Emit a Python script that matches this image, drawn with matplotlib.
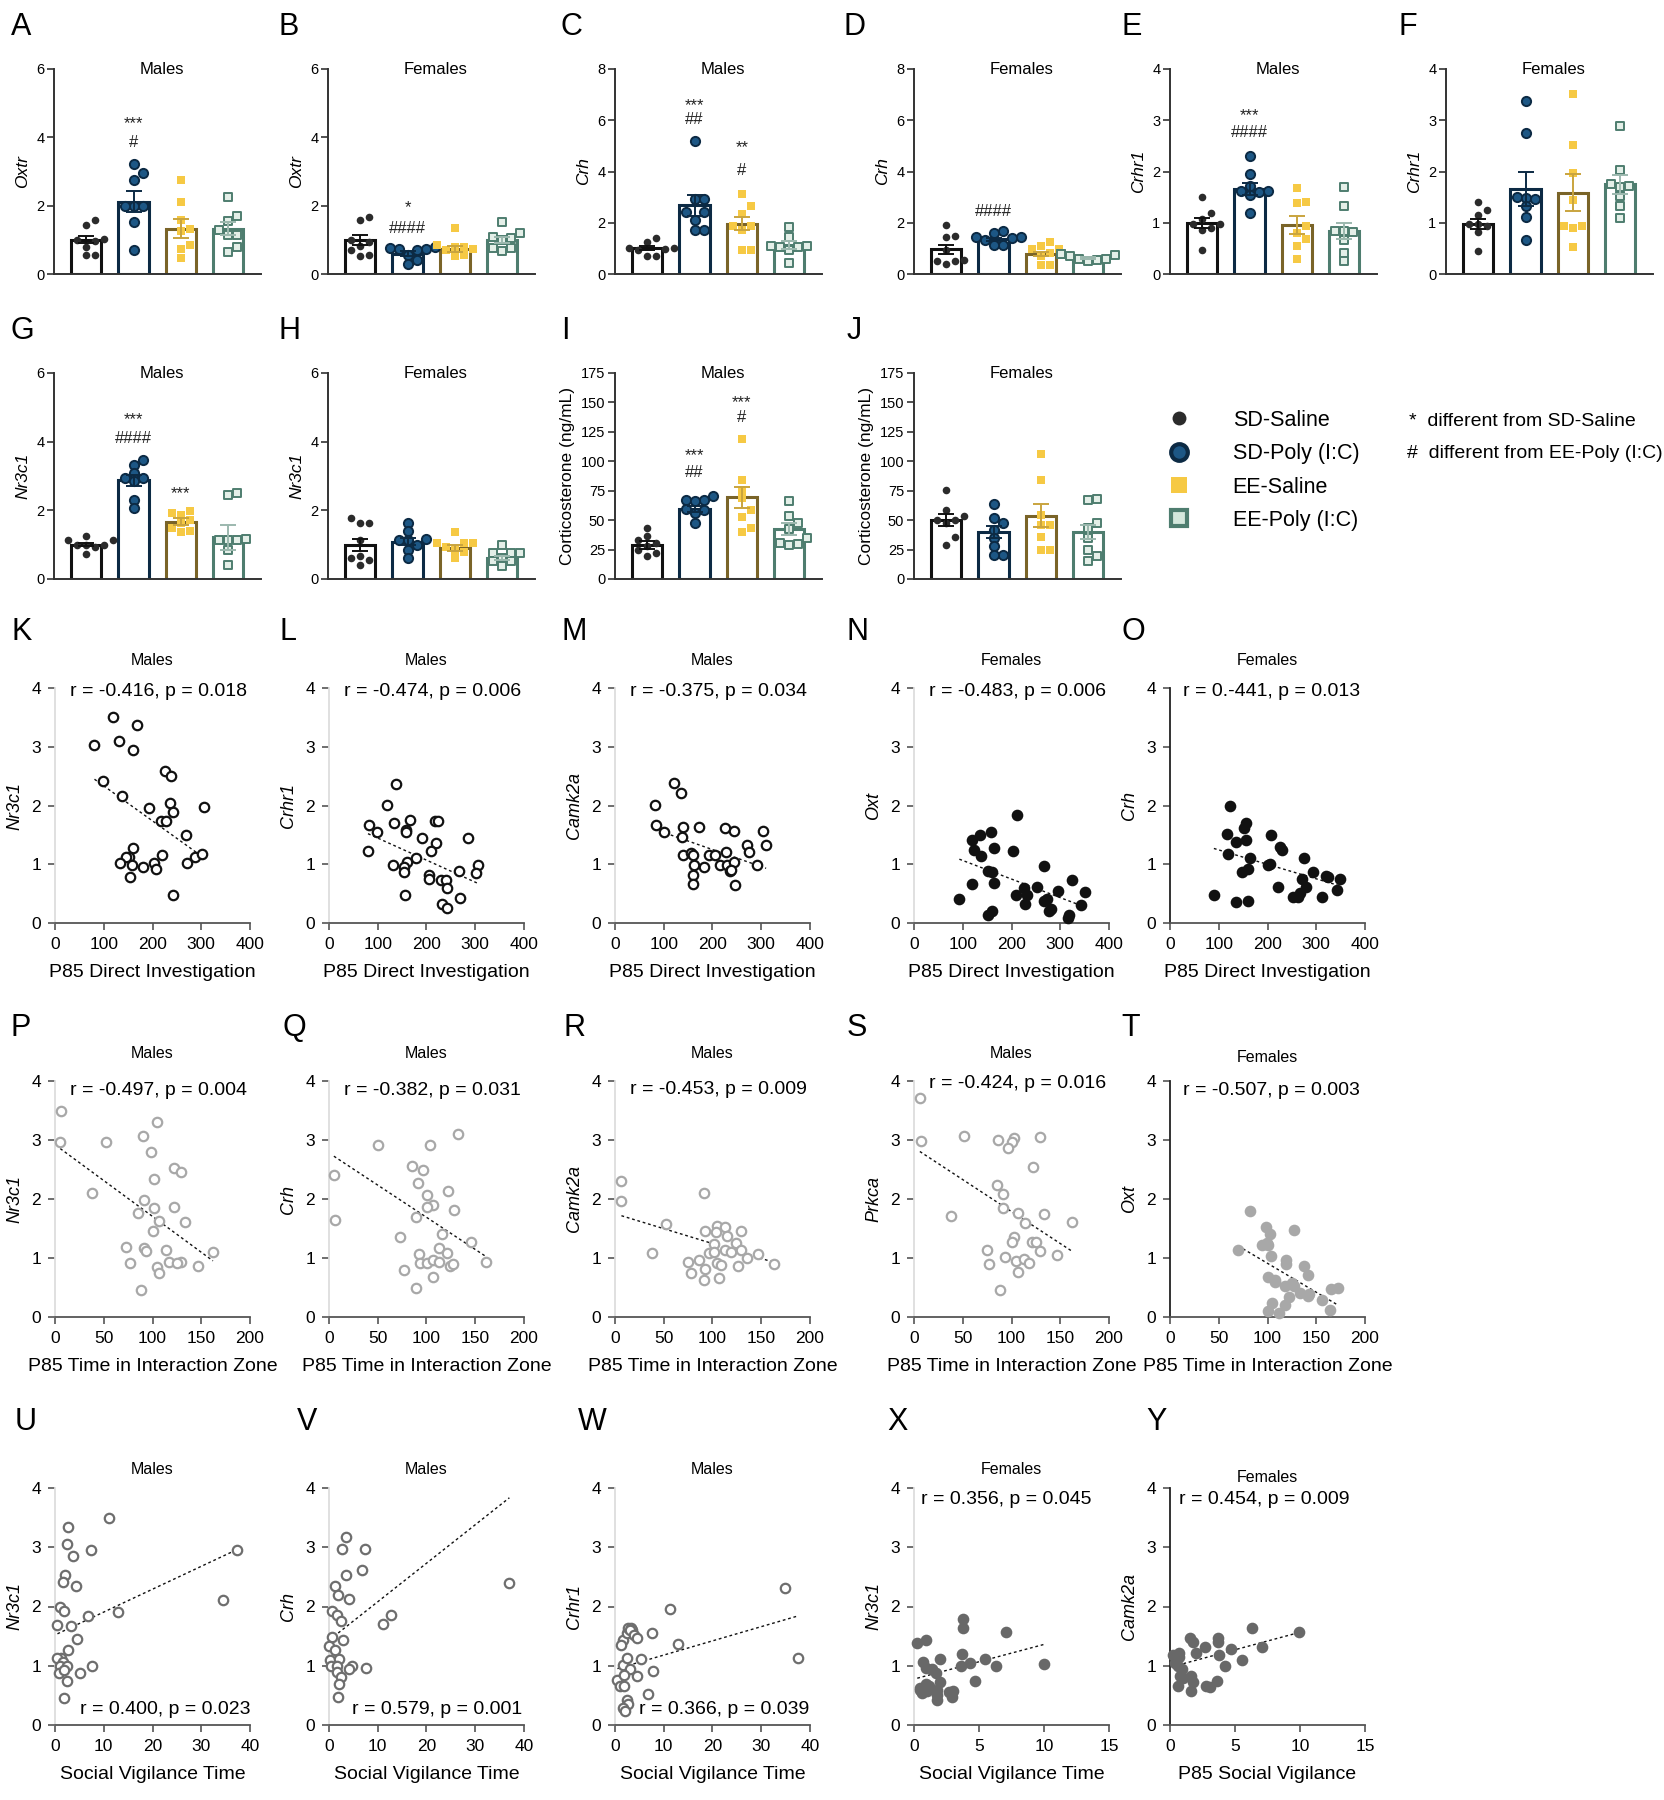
import numpy as np
import matplotlib

matplotlib.use("Agg")
import matplotlib.pyplot as plt  # noqa: E402
from matplotlib.lines import Line2D  # noqa: E402

plt.rcParams["font.family"] = ["Liberation Sans", "DejaVu Sans"]

# ---------------------------------------------------------------- bar data
GROUPS = ["SD-Saline", "SD-Poly (I:C)", "EE-Saline", "EE-Poly (I:C)"]

OXTR_M_MEAN = [1.0, 2.12, 1.33, 1.33]
OXTR_M_SEM = [0.1, 0.3, 0.28, 0.18]
OXTR_M_PTS = [[1.57, 1.42, 1.02, 1.0, 0.97, 0.8, 0.55, 0.55],
              [3.21, 2.97, 2.76, 1.98, 1.98, 1.98, 1.51, 0.69],
              [2.76, 2.12, 1.59, 1.31, 1.25, 0.86, 0.73, 0.47],
              [2.24, 1.70, 1.56, 1.30, 1.15, 1.15, 0.79, 0.63]]

OXTR_F_MEAN = [1.0, 0.6, 0.73, 1.0]
OXTR_F_SEM = [0.14, 0.06, 0.08, 0.08]
OXTR_F_PTS = [[1.66, 1.59, 1.0, 0.95, 0.83, 0.71, 0.55, 0.54],
              [0.78, 0.76, 0.74, 0.72, 0.70, 0.55, 0.42, 0.30],
              [1.36, 0.86, 0.80, 0.78, 0.72, 0.70, 0.55, 0.52],
              [1.51, 1.2, 1.08, 1.06, 1.0, 0.76, 0.75, 0.66]]

CRH_M_MEAN = [1.01, 2.68, 1.96, 1.12]
CRH_M_SEM = [0.09, 0.4, 0.25, 0.15]
CRH_M_PTS = [[1.4, 1.23, 1.01, 1.0, 0.98, 0.92, 0.71, 0.7],
             [5.19, 2.94, 2.94, 2.42, 2.42, 2.12, 1.73, 1.73],
             [3.13, 2.64, 2.34, 1.88, 1.88, 1.73, 0.95, 0.95],
             [1.83, 1.44, 1.1, 1.08, 1.07, 1.05, 0.92, 0.43]]

CRH_F_MEAN = [0.97, 1.36, 0.79, 0.62]
CRH_F_SEM = [0.17, 0.06, 0.08, 0.05]
CRH_F_PTS = [[1.92, 1.47, 1.45, 0.95, 0.55, 0.5, 0.49, 0.4],
             [1.69, 1.6, 1.44, 1.43, 1.42, 1.34, 1.14, 1.13],
             [1.25, 1.08, 0.97, 0.96, 0.82, 0.69, 0.36, 0.36],
             [0.78, 0.77, 0.76, 0.69, 0.58, 0.57, 0.56, 0.49]]

CRHR1_M_MEAN = [0.99, 1.66, 0.96, 0.84]
CRHR1_M_SEM = [0.1, 0.12, 0.17, 0.16]
CRHR1_M_PTS = [[1.51, 1.19, 1.08, 0.98, 0.97, 0.9, 0.86, 0.46],
               [2.31, 1.95, 1.71, 1.61, 1.61, 1.6, 1.55, 1.19],
               [1.68, 1.40, 1.39, 0.93, 0.80, 0.68, 0.54, 0.29],
               [1.69, 1.32, 0.84, 0.83, 0.82, 0.67, 0.41, 0.25]]

CRHR1_F_MEAN = [0.98, 1.66, 1.59, 1.75]
CRHR1_F_SEM = [0.1, 0.33, 0.36, 0.18]
CRHR1_F_PTS = [[1.40, 1.24, 1.16, 0.98, 0.97, 0.94, 0.81, 0.44],
               [3.38, 2.75, 1.51, 1.48, 1.47, 1.32, 1.12, 0.67],
               [3.51, 2.52, 1.97, 1.45, 0.94, 0.94, 0.9, 0.53],
               [2.89, 2.02, 1.75, 1.71, 1.70, 1.53, 1.33, 1.09]]

NR3C1_M_MEAN = [1.0, 2.87, 1.67, 1.21]
NR3C1_M_SEM = [0.05, 0.15, 0.1, 0.37]
NR3C1_M_PTS = [[1.26, 1.15, 1.14, 1.0, 0.99, 0.98, 0.93, 0.74],
               [3.48, 3.33, 3.09, 2.94, 2.93, 2.84, 2.31, 2.07],
               [1.97, 1.92, 1.87, 1.73, 1.63, 1.49, 1.39, 1.36],
               [2.5, 2.46, 1.16, 1.15, 1.14, 1.13, 0.85, 0.42]]

NR3C1_F_MEAN = [0.99, 1.08, 0.9, 0.61]
NR3C1_F_SEM = [0.18, 0.1, 0.08, 0.06]
NR3C1_F_PTS = [[1.78, 1.63, 1.62, 1.15, 0.66, 0.61, 0.56, 0.42],
               [1.63, 1.39, 1.16, 1.15, 1.14, 1.0, 0.85, 0.61],
               [1.36, 1.06, 1.05, 1.04, 0.93, 0.85, 0.78, 0.61],
               [1.0, 0.77, 0.76, 0.75, 0.61, 0.52, 0.51, 0.37]]

CORT_M_MEAN = [28.9, 59.5, 69.4, 42.8]
CORT_M_SEM = [3.0, 2.5, 9.0, 5.0]
CORT_M_PTS = [[43.3, 36.3, 33.4, 30.6, 27.8, 24.9, 22.1, 19.8],
              [70.3, 67.5, 66.9, 66.3, 59.5, 59.0, 56.1, 47.6],
              [119.0, 84.4, 75.9, 68.8, 58.9, 52.7, 43.3, 39.7],
              [66.0, 53.8, 47.6, 42.5, 34.8, 30.6, 30.0, 29.2]]

CORT_F_MEAN = [49.9, 39.7, 53.8, 39.7]
CORT_F_SEM = [5.0, 5.0, 10.0, 6.0]
CORT_F_PTS = [[75.9, 58.9, 53.3, 50.4, 50.0, 47.6, 35.7, 29.2],
              [63.7, 51.8, 47.6, 41.9, 34.8, 27.8, 20.7, 20.5],
              [106.5, 84.4, 54.7, 46.2, 45.8, 35.7, 24.9, 24.5],
              [68.0, 67.4, 47.6, 43.3, 34.8, 24.9, 19.3, 15.0]]

# significance marks: panel -> (group index, text, y)
SIG_MARKS = {
    "A": [(1, "***", 4.43), (1, "#", 3.83)],
    "B": [(1, "*", 1.98), (1, "####", 1.31)],
    "C": [(1, "***", 6.6), (1, "##", 6.01), (2, "**", 5.0), (2, "#", 4.0)],
    "D": [(1, "####", 2.44)],
    "E": [(1, "***", 3.1), (1, "####", 2.75)],
    "G": [(1, "***", 4.66), (1, "####", 4.08), (2, "***", 2.49)],
    "I": [(1, "***", 105.7), (1, "##", 90.0), (2, "***", 150.0), (2, "#", 136.8)],
}

# ------------------------------------------------------------ scatter data
K_X = [119, 168, 81, 132, 159, 225, 238, 98, 138, 192, 235, 243, 306, 217, 228,
       268, 159, 152, 146, 133, 157, 219, 181, 203, 208, 154, 270, 287, 301, 242]
K_Y = [3.5, 3.37, 3.03, 3.1, 2.94, 2.59, 2.5, 2.41, 2.16, 1.95, 2.05, 1.89, 1.97, 1.73, 1.74,
       1.5, 1.28, 1.12, 1.13, 1.02, 0.99, 1.15, 0.95, 1.02, 0.92, 0.78, 1.02, 1.12, 1.18, 0.47]
L_X = [137, 120, 82, 134, 167, 218, 224, 158, 158, 99, 190, 286, 219, 80, 210, 179,
       159, 131, 153, 153, 267, 306, 302, 205, 205, 229, 241, 243, 268, 156, 232, 243]
L_Y = [2.37, 2.01, 1.66, 1.70, 1.76, 1.74, 1.74, 1.58, 1.55, 1.55, 1.44, 1.44, 1.36, 1.22, 1.22, 1.10,
       1.04, 0.98, 0.95, 0.87, 0.89, 0.98, 0.85, 0.81, 0.75, 0.74, 0.74, 0.59, 0.43, 0.48, 0.32, 0.26]
M_X = [121, 136, 82, 84, 101, 140, 173, 225, 244, 304, 310, 271, 275, 137, 140, 156,
       159, 192, 205, 227, 216, 229, 244, 162, 182, 235, 292, 159, 159, 247, 238]
M_Y = [2.39, 2.22, 2.01, 1.67, 1.55, 1.64, 1.64, 1.62, 1.57, 1.57, 1.32, 1.32, 1.21, 1.47, 1.15, 1.2,
       1.15, 1.15, 1.15, 1.21, 0.98, 0.98, 1.04, 0.98, 0.95, 0.89, 0.98, 0.81, 0.66, 0.64, 0.9]
N_X = [212, 157, 135, 118, 124, 137, 164, 203, 266, 151, 160, 118, 165, 93, 209, 225,
       231, 228, 252, 266, 272, 296, 324, 351, 343, 277, 281, 318, 316, 151, 160]
N_Y = [1.83, 1.55, 1.5, 1.42, 1.25, 1.14, 1.27, 1.22, 0.97, 0.89, 0.87, 0.66, 0.68, 0.41, 0.48, 0.6,
       0.48, 0.33, 0.61, 0.38, 0.41, 0.54, 0.73, 0.52, 0.3, 0.2, 0.23, 0.14, 0.09, 0.13, 0.2]
O_X = [123, 155, 151, 117, 135, 155, 208, 225, 230, 118, 164, 274, 202, 206, 159, 148,
       294, 271, 320, 324, 348, 279, 222, 266, 252, 263, 312, 342, 90, 135, 161]
O_Y = [1.99, 1.7, 1.62, 1.52, 1.38, 1.42, 1.49, 1.3, 1.25, 1.18, 1.11, 1.11, 0.99, 1.01, 0.92, 0.86,
       0.87, 0.75, 0.8, 0.78, 0.75, 0.61, 0.61, 0.51, 0.44, 0.44, 0.45, 0.57, 0.47, 0.36, 0.38]
P_X = [6.5, 5.4, 52, 90, 98, 105, 38, 102, 122, 129, 91, 102, 85, 122, 133,
       107, 101, 73, 91, 93, 77, 114, 117, 129, 125, 105, 107, 147, 162, 88]
P_Y = [3.49, 2.96, 2.96, 3.06, 2.8, 3.3, 2.1, 2.34, 2.52, 2.45, 1.99, 1.84, 1.77, 1.87, 1.61,
       1.63, 1.45, 1.19, 1.17, 1.12, 0.92, 1.13, 0.93, 0.94, 0.92, 0.85, 0.74, 0.86, 1.11, 0.45]
Q_X = [5, 6, 50, 104, 132, 85, 96, 91, 101, 107, 122, 128, 101, 89, 73,
       116, 146, 113, 121, 92, 93, 101, 107, 113, 124, 127, 161, 77, 107, 89]
Q_Y = [2.41, 1.65, 2.92, 2.92, 3.1, 2.56, 2.5, 2.27, 2.07, 1.89, 2.14, 1.82, 1.87, 1.69, 1.35,
       1.41, 1.27, 1.17, 1.08, 1.06, 0.91, 0.91, 0.96, 0.93, 0.87, 0.89, 0.94, 0.8, 0.68, 0.49]
R_X = [6.6, 6.6, 91, 52, 38, 92, 105, 113, 104, 115, 129, 102, 124, 96, 102,
       113, 119, 129, 135, 147, 75, 86, 92, 105, 109, 126, 163, 78, 107, 91]
R_Y = [2.31, 1.96, 2.11, 1.57, 1.08, 1.46, 1.55, 1.52, 1.44, 1.38, 1.46, 1.24, 1.25, 1.08, 1.1,
       1.14, 1.1, 1.13, 1.0, 1.07, 0.93, 0.97, 0.82, 0.91, 0.88, 0.86, 0.89, 0.74, 0.66, 0.62]
S_X = [6, 7, 51, 86, 103, 100, 96, 129, 122, 85, 91, 91, 107, 38, 133, 114,
       162, 103, 101, 121, 125, 75, 129, 147, 93, 105, 113, 118, 77, 107, 88]
S_Y = [3.71, 2.99, 3.07, 3.0, 3.03, 2.96, 2.86, 3.05, 2.55, 2.23, 2.08, 1.84, 1.76, 1.72, 1.75, 1.59,
       1.61, 1.35, 1.27, 1.27, 1.27, 1.14, 1.12, 1.05, 1.01, 0.95, 0.99, 0.92, 0.9, 0.76, 0.45]
T_X = [82, 98, 103, 127, 94, 99, 100, 70, 104, 119, 119, 137, 142, 100, 108, 108,
       118, 125, 127, 133, 143, 142, 165, 172, 156, 122, 105, 118, 100, 112, 164]
T_Y = [1.8, 1.52, 1.41, 1.48, 1.22, 1.25, 1.22, 1.13, 1.04, 0.96, 0.9, 0.86, 0.72, 0.68, 0.62, 0.59,
       0.52, 0.57, 0.52, 0.41, 0.39, 0.35, 0.48, 0.49, 0.28, 0.34, 0.23, 0.2, 0.11, 0.07, 0.12]
U_X = [11.1, 2.7, 2.4, 3.7, 7.3, 37.3, 2.1, 1.6, 4.4, 1.1, 1.9, 13, 6.8, 34.5, 0.5,
       3.3, 4.6, 2.7, 1.3, 0.5, 1.6, 1.1, 2.4, 7.5, 0.8, 1.9, 5.1, 2.4, 1.9]
U_Y = [3.49, 3.35, 3.05, 2.86, 2.96, 2.96, 2.54, 2.42, 2.34, 2.0, 1.92, 1.9, 1.84, 2.11, 1.69,
       1.67, 1.45, 1.26, 1.13, 1.13, 1.07, 1.0, 1.0, 1.0, 0.87, 0.93, 0.88, 0.75, 0.46]
V_X = [3.4, 2.7, 7.3, 6.7, 3.5, 1.2, 1.8, 4.2, 0.7, 1.7, 2.4, 12.8, 11.1, 37, 0.7,
       2.8, 0.1, 1.2, 0.2, 2.1, 0.4, 1.7, 4.8, 7.5, 4.2, 1.7, 2.4, 2.1, 1.8]
V_Y = [3.17, 2.97, 2.97, 2.62, 2.54, 2.34, 2.2, 2.12, 1.93, 1.86, 1.75, 1.85, 1.7, 2.39, 1.48,
       1.43, 1.34, 1.26, 1.1, 1.11, 1.0, 0.99, 0.99, 0.97, 0.94, 0.9, 0.81, 0.69, 0.48]
W_X = [34.8, 11.2, 1.6, 1.3, 2.4, 2.6, 3.3, 3.5, 3.0, 3.8, 4.6, 7.6, 13, 5.4, 37.6,
       1.6, 3.0, 7.8, 0.5, 1.9, 4.6, 1.0, 1.9, 6.8, 2.4, 2.7, 1.6, 2.1, 2.4]
W_Y = [2.32, 1.96, 1.44, 1.35, 1.55, 1.64, 1.64, 1.6, 1.6, 1.52, 1.46, 1.55, 1.36, 1.12, 1.13,
       1.01, 0.94, 0.91, 0.76, 0.85, 0.82, 0.65, 0.65, 0.52, 0.43, 0.36, 0.28, 0.23, 1.13]
X_X = [3.8, 3.8, 7.1, 0.9, 0.25, 3.7, 2.0, 5.5, 4.3, 0.7, 0.9, 3.6, 6.3, 10, 1.4,
       1.7, 2.0, 4.7, 0.95, 1.15, 0.45, 0.6, 1.0, 1.8, 1.8, 2.7, 3.0, 2.9, 1.8, 0.45]
X_Y = [1.79, 1.63, 1.57, 1.43, 1.38, 1.19, 1.12, 1.12, 1.05, 1.06, 0.96, 0.99, 1.0, 1.03, 0.94,
       0.87, 0.72, 0.74, 0.69, 0.65, 0.62, 0.54, 0.58, 0.59, 0.51, 0.56, 0.58, 0.48, 0.42, 0.59]
Y_X = [6.3, 9.9, 1.5, 1.8, 3.7, 3.7, 2.7, 4.7, 7.1, 0.2, 0.7, 2.0, 3.8, 5.5,
       0.4, 0.6, 0.9, 4.2, 0.8, 1.6, 1.0, 1.8, 3.6, 0.6, 2.8, 3.1, 1.6, 0.7]
Y_Y = [1.63, 1.57, 1.47, 1.4, 1.46, 1.4, 1.32, 1.28, 1.32, 1.18, 1.22, 1.22, 1.18, 1.1,
       1.04, 0.99, 0.94, 1.0, 0.82, 0.82, 0.79, 0.73, 0.74, 0.66, 0.66, 0.64, 0.57, 1.15]

# regression lines: (slope, intercept)
FITS = {"K": (-0.00596, 2.93), "L": (-0.00375, 1.82), "M": (-0.0029, 1.83),
        "N": (-0.00316, 1.38), "O": (-0.00246, 1.49), "P": (-0.01215, 2.92),
        "Q": (-0.0109, 2.78), "R": (-0.00505, 1.75), "S": (-0.01083, 2.87),
        "T": (-0.0098, 1.89), "U": (0.0386, 1.52), "V": (0.065, 1.43),
        "W": (0.024, 0.94), "X": (0.0585, 0.775), "Y": (0.059, 0.975)}

# ------------------------------------------------------------------ styles
PT_FACE = ["#2b2b2b", "#1d5785", "#f6c944", "#e4efe8"]
PT_EDGE = ["#2b2b2b", "#0c2a44", "#f6c944", "#4e7d6f"]
PT_MARK = ["o", "o", "s", "s"]
PT_SIZE = [30, 44, 34, 40]
PT_LW = [0.0, 1.4, 0.0, 1.4]
BAR_EDGE = ["#111111", "#0c2a44", "#7a6428", "#4e7d6f"]
ERR_COL = ["#111111", "#0c2a44", "#c9a43e", "#9cb8ae"]
SIG_FS = 12

W, H = 1665, 1800
fig = plt.figure(figsize=(W / 100, H / 100), dpi=100)


def px_axes(x0, top, width, bottom):
    return fig.add_axes([x0 / W, 1 - bottom / H, width / W, (bottom - top) / H])


def swarm(vals, ux, uy, diam=9.0):
    """Spread points sideways so markers at similar heights don't overlap."""
    vals = np.asarray(vals, float)
    placed, offs = [], np.zeros(len(vals))
    for i in np.argsort(vals):
        y = vals[i] * uy
        for k in (0, 1, -1, 2, -2, 3, -3):
            x = k * diam
            if all((x - a) ** 2 + (y - b) ** 2 >= (0.9 * diam) ** 2 for a, b in placed):
                break
        placed.append((x, y))
        offs[i] = x / ux
    return offs


def bar_panel(ax, key, means, sems, pts, ymax, ystep, ylabel, title, italic=True):
    xlim = (-0.68, 3.69)
    ux = ax.bbox.width / (xlim[1] - xlim[0])
    uy = ax.bbox.height / ymax
    for i in range(4):
        ax.bar(i, means[i], width=0.64, facecolor="white", edgecolor=BAR_EDGE[i],
               linewidth=2.2, zorder=2)
        ax.scatter(i + swarm(pts[i], ux, uy), pts[i], marker=PT_MARK[i], s=PT_SIZE[i],
                   facecolor=PT_FACE[i], edgecolor=PT_EDGE[i], linewidths=PT_LW[i],
                   zorder=3, clip_on=False)
        ax.errorbar(i, means[i], yerr=sems[i], color=ERR_COL[i], capsize=6,
                    elinewidth=1.4, capthick=1.4, zorder=4)

    # stacked significance marks above one bar go into a single multi-line text
    marks = SIG_MARKS.get(key, [])
    line_px = 0.94 * SIG_FS * 100 / 72
    for gi in sorted({m[0] for m in marks}):
        items = sorted(((y, t) for g, t, y in marks if g == gi), reverse=True)
        y_top, y_bot = items[0][0], items[-1][0]
        spacing = 1.0
        if len(items) > 1:
            spacing = (y_top - y_bot) * uy / (len(items) - 1) / line_px
        ax.text(gi, (y_top + y_bot) / 2, "\n".join(t for _, t in items), ha="center",
                va="center", fontsize=SIG_FS, linespacing=spacing, color="#222222")

    ax.set_xlim(*xlim)
    ax.set_ylim(0, ymax)
    ax.set_yticks(np.arange(0, ymax + ystep / 2, ystep))
    ax.set_xticks([])
    for s in ("top", "right"):
        ax.spines[s].set_visible(False)
    for s in ("left", "bottom"):
        ax.spines[s].set_color("#333333")
        ax.spines[s].set_linewidth(1.4)
    ax.tick_params(axis="y", labelsize=10.5, length=5, width=1.2, color="#333333", pad=2)
    ax.set_ylabel(ylabel, fontsize=12.5, fontstyle="italic" if italic else "normal",
                  labelpad=4)
    ax.text(0.52, 1.0, title, transform=ax.transAxes, ha="center", va="center",
            fontsize=12)


def scatter_panel(ax, key, xs, ys, xmax, xstep, ylabel, title, title_y, xlabel,
                  face, edge, stat, stat_xy, dark_axis):
    ax.scatter(xs, ys, s=46, facecolor=face, edgecolor=edge, linewidths=1.6,
               zorder=3, clip_on=False)
    slope, icpt = FITS[key]
    fx = np.array([min(xs), max(xs)])
    ax.plot(fx, slope * fx + icpt, color="#111111", lw=1.0, ls=(0, (2, 2)), zorder=2)
    ax.set_xlim(0, xmax)
    ax.set_ylim(0, 4)
    ax.set_xticks(np.arange(0, xmax + xstep / 2, xstep))
    ax.set_yticks([0, 1, 2, 3, 4])
    for s in ("top", "right"):
        ax.spines[s].set_visible(False)
    ax.spines["bottom"].set_color("#555555")
    ax.spines["bottom"].set_linewidth(1.3)
    ax.spines["left"].set_color("#222222" if dark_axis else "#dddddd")
    ax.spines["left"].set_linewidth(1.3)
    ax.tick_params(labelsize=12.5, length=5, width=1.2, color="#555555", pad=5)
    ax.set_ylabel(ylabel, fontsize=13, fontstyle="italic", labelpad=6)
    ax.set_xlabel(xlabel, fontsize=14, labelpad=9)
    ax.text(0.5, title_y, title, transform=ax.transAxes, ha="center", va="center",
            fontsize=11.5)
    ax.text(stat_xy[0], stat_xy[1], stat, transform=ax.transAxes, ha="center",
            va="center", fontsize=14)


# ------------------------------------------------------------------ layout
BAR_X = [54, 328, 615, 914, 1170, 1446]
BAR_W = 207
ROW1 = (69, 274)
ROW2 = (373, 579)

bar_specs = [
    ("A", BAR_X[0], ROW1, OXTR_M_MEAN, OXTR_M_SEM, OXTR_M_PTS, 6, 2, "Oxtr", "Males", True),
    ("B", BAR_X[1], ROW1, OXTR_F_MEAN, OXTR_F_SEM, OXTR_F_PTS, 6, 2, "Oxtr", "Females", True),
    ("C", BAR_X[2], ROW1, CRH_M_MEAN, CRH_M_SEM, CRH_M_PTS, 8, 2, "Crh", "Males", True),
    ("D", BAR_X[3], ROW1, CRH_F_MEAN, CRH_F_SEM, CRH_F_PTS, 8, 2, "Crh", "Females", True),
    ("E", BAR_X[4], ROW1, CRHR1_M_MEAN, CRHR1_M_SEM, CRHR1_M_PTS, 4, 1, "Crhr1", "Males", True),
    ("F", BAR_X[5], ROW1, CRHR1_F_MEAN, CRHR1_F_SEM, CRHR1_F_PTS, 4, 1, "Crhr1", "Females", True),
    ("G", BAR_X[0], ROW2, NR3C1_M_MEAN, NR3C1_M_SEM, NR3C1_M_PTS, 6, 2, "Nr3c1", "Males", True),
    ("H", BAR_X[1], ROW2, NR3C1_F_MEAN, NR3C1_F_SEM, NR3C1_F_PTS, 6, 2, "Nr3c1", "Females", True),
    ("I", BAR_X[2], ROW2, CORT_M_MEAN, CORT_M_SEM, CORT_M_PTS, 175, 25,
     "Corticosterone (ng/mL)", "Males", False),
    ("J", BAR_X[3], ROW2, CORT_F_MEAN, CORT_F_SEM, CORT_F_PTS, 175, 25,
     "Corticosterone (ng/mL)", "Females", False),
]
for key, x0, (top, bot), mean, sem, pts, ymax, ystep, ylab, title, ital in bar_specs:
    ax = px_axes(x0, top, BAR_W, bot)
    bar_panel(ax, key, mean, sem, pts, ymax, ystep, ylab, title, ital)

SC_X = [55, 329, 615, 914, 1170]
SC_W = 195
ROW3 = (688, 923)
ROW4 = (1081, 1317)
ROW5 = (1488, 1725)
DI = "P85 Direct Investigation"
IZ = "P85 Time in Interaction Zone"
SV = "Social Vigilance Time"
BLK_O = ("white", "#111111")
BLK_F = ("#111111", "#111111")
LG_O = ("white", "#a8a8a8")
LG_F = ("#a8a8a8", "#a8a8a8")
DG_O = ("white", "#6e6e6e")
DG_F = ("#686868", "#686868")

scatter_specs = [
    ("K", SC_X[0], ROW3, K_X, K_Y, 400, 100, "Nr3c1", "Males", 1.115, DI, BLK_O,
     "r = -0.416, p = 0.018", (0.53, 0.985), False),
    ("L", SC_X[1], ROW3, L_X, L_Y, 400, 100, "Crhr1", "Males", 1.115, DI, BLK_O,
     "r = -0.474, p = 0.006", (0.53, 0.985), False),
    ("M", SC_X[2], ROW3, M_X, M_Y, 400, 100, "Camk2a", "Males", 1.115, DI, BLK_O,
     "r = -0.375, p = 0.034", (0.53, 0.985), False),
    ("N", SC_X[3], ROW3, N_X, N_Y, 400, 100, "Oxt", "Females", 1.115, DI, BLK_F,
     "r = -0.483, p = 0.006", (0.53, 0.985), False),
    ("O", SC_X[4], ROW3, O_X, O_Y, 400, 100, "Crh", "Females", 1.115, DI, BLK_F,
     "r = 0.-441, p = 0.013", (0.52, 0.985), True),
    ("P", SC_X[0], ROW4, P_X, P_Y, 200, 50, "Nr3c1", "Males", 1.115, IZ, LG_O,
     "r = -0.497, p = 0.004", (0.53, 0.96), False),
    ("Q", SC_X[1], ROW4, Q_X, Q_Y, 200, 50, "Crh", "Males", 1.115, IZ, LG_O,
     "r = -0.382, p = 0.031", (0.53, 0.96), False),
    ("R", SC_X[2], ROW4, R_X, R_Y, 200, 50, "Camk2a", "Males", 1.115, IZ, LG_O,
     "r = -0.453, p = 0.009", (0.53, 0.965), False),
    ("S", SC_X[3], ROW4, S_X, S_Y, 200, 50, "Prkca", "Males", 1.115, IZ, LG_O,
     "r = -0.424, p = 0.016", (0.53, 0.99), False),
    ("T", SC_X[4], ROW4, T_X, T_Y, 200, 50, "Oxt", "Females", 1.10, IZ, LG_F,
     "r = -0.507, p = 0.003", (0.52, 0.96), True),
    ("U", SC_X[0], ROW5, U_X, U_Y, 40, 10, "Nr3c1", "Males", 1.076, SV, DG_O,
     "r = 0.400, p = 0.023", (0.565, 0.065), False),
    ("V", SC_X[1], ROW5, V_X, V_Y, 40, 10, "Crh", "Males", 1.076, SV, DG_O,
     "r = 0.579, p = 0.001", (0.555, 0.065), False),
    ("W", SC_X[2], ROW5, W_X, W_Y, 40, 10, "Crhr1", "Males", 1.076, SV, DG_O,
     "r = 0.366, p = 0.039", (0.56, 0.065), False),
    ("X", SC_X[3], ROW5, X_X, X_Y, 15, 5, "Nr3c1", "Females", 1.076, SV, DG_F,
     "r = 0.356, p = 0.045", (0.475, 0.95), False),
    ("Y", SC_X[4], ROW5, Y_X, Y_Y, 15, 5, "Camk2a", "Females", 1.046,
     "P85 Social Vigilance", DG_F, "r = 0.454, p = 0.009", (0.485, 0.95), True),
]
for (key, x0, (top, bot), xs, ys, xmax, xstep, ylab, title, ty, xlab, (fc, ec),
     stat, sxy, dark) in scatter_specs:
    ax = px_axes(x0, top, SC_W, bot)
    scatter_panel(ax, key, xs, ys, xmax, xstep, ylab, title, ty, xlab, fc, ec,
                  stat, sxy, dark)

# panel letters (pixel centres)
LETTERS = {
    "A": (21, 27), "B": (289, 27), "C": (571, 27), "D": (854, 27), "E": (1132, 27),
    "F": (1408, 27), "G": (22, 331), "H": (290, 331), "I": (565, 331), "J": (854, 331),
    "K": (22, 632), "L": (288, 632), "M": (574, 632), "N": (858, 632), "O": (1133, 632),
    "P": (21, 1028), "Q": (294, 1028), "R": (574, 1028), "S": (857, 1028), "T": (1131, 1028),
    "U": (26, 1422), "V": (307, 1422), "W": (592, 1422), "X": (897, 1422), "Y": (1157, 1422),
}
for letter, (lx, ly) in LETTERS.items():
    fig.text(lx / W, 1 - ly / H, letter, ha="center", va="center", fontsize=22)

# legend
handles = [Line2D([], [], ls="none", marker=PT_MARK[i], markersize=[10, 12, 11, 12][i],
                  markerfacecolor=PT_FACE[i] if i != 3 else "#d4e7dc",
                  markeredgecolor=PT_EDGE[i], markeredgewidth=[0, 3, 0, 3][i])
           for i in range(4)]
fig.legend(handles, GROUPS, loc="upper left", bbox_to_anchor=(1168 / W, 1 - 410 / H),
           frameon=False, fontsize=15.5, handlelength=1.0, handletextpad=2.0,
           labelspacing=0.57, borderpad=0, borderaxespad=0)
fig.text(1409 / W, 1 - 422 / H, "*  different from SD-Saline", ha="left", va="center",
         fontsize=14)
fig.text(1407 / W, 1 - 454 / H, "#  different from EE-Poly (I:C)", ha="left", va="center",
         fontsize=14)

fig.savefig("out.png", dpi=100, facecolor="white")
